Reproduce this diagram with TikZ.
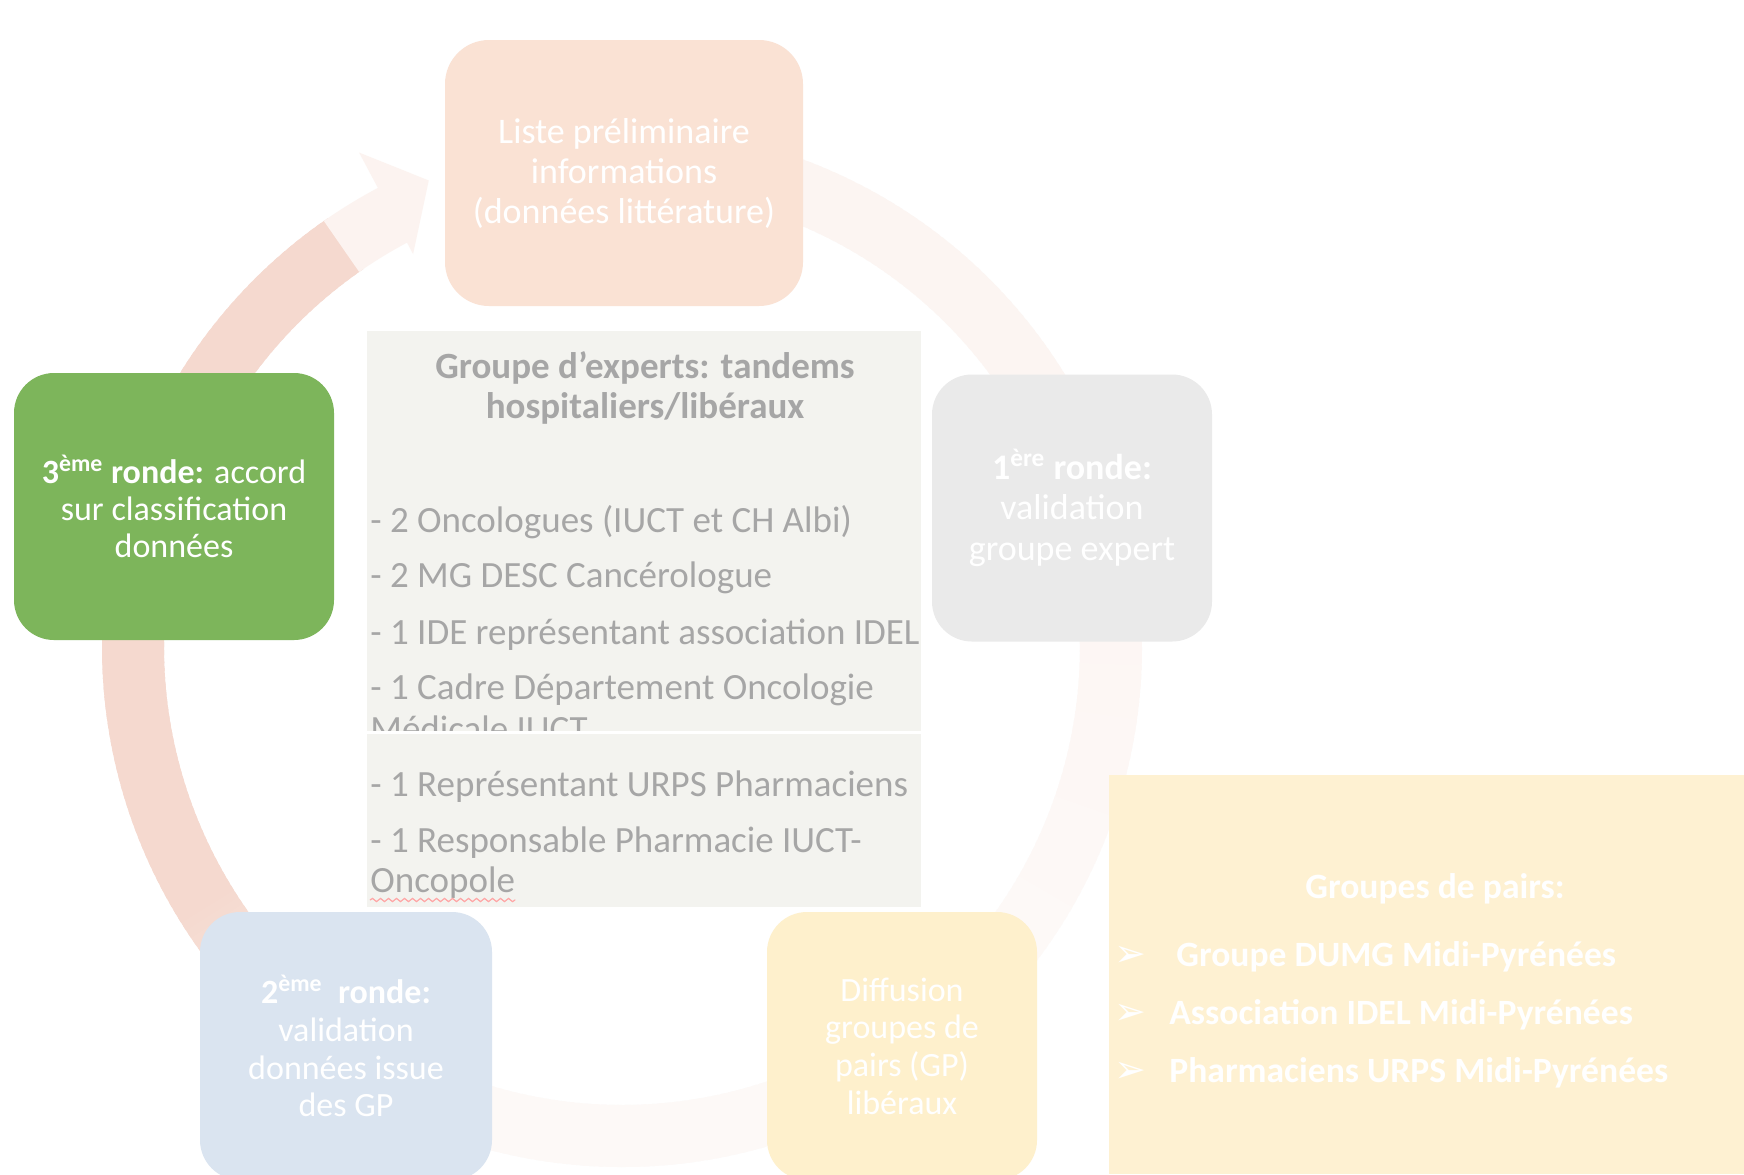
\documentclass[tikz,border=0pt]{standalone}
\usepackage{fontspec}
\setmainfont{Carlito}
\newfontfamily\djv{DejaVu Sans}
\usetikzlibrary{decorations.pathmorphing}
\definecolor{peachfill}{HTML}{FAE2D4}
\definecolor{greenfill}{HTML}{7DB55B}
\definecolor{grayfill}{HTML}{EAEAEA}
\definecolor{bluefill}{HTML}{DAE4F0}
\definecolor{yellowfill}{HTML}{FEF0CC}
\definecolor{expfill}{HTML}{F3F3EF}
\definecolor{expgray}{HTML}{A6A6A6}
\definecolor{pairfill}{HTML}{FEF1D2}
\definecolor{ringpink}{HTML}{F5D9CF}
\begin{document}
\begin{tikzpicture}[x=0.5pt,y=0.5pt,
  roundbox/.style={rounded corners=20pt, inner sep=0pt, align=center, text=white},
  expbox/.style={fill=expfill, inner sep=0pt, minimum width=277pt},
  listitem/.style={anchor=base west, inner sep=0pt, text=expgray, font=\fontsize{18.5}{20}\selectfont},
  pairitem/.style={anchor=base west, inner sep=0pt, text=white, font=\bfseries\fontsize{17.8}{20}\selectfont},
  pairbullet/.style={anchor=base west, inner sep=0pt, text=white, font=\djv\fontsize{19}{20}\selectfont},
  squiggle/.style={decorate, decoration={snake, segment length=4pt, amplitude=0.8pt}, draw=red!35!white, line width=0.6pt}
]
\path[use as bounding box] (0,0) rectangle (1744,-1174);
\clip (0,0) rectangle (1744,-1174);
\fill[white] (0,0) rectangle (1744,-1174);

% circular arrow
\begin{scope}[shift={(622,-647)}]
  \foreach \s in {0,...,334}{
    \pgfmathtruncatemacro\pp{\s<80 ? 27 : (\s<140 ? 27-(\s-80)/60*11 : (\s<208 ? 16 : (\s<248 ? 16+(\s-208)/40*84 : 100)))}
    \pgfmathsetmacro\th{100-\s}
    \pgfmathsetmacro\te{\th-1.6}
    \draw[line width=31pt, color=ringpink!\pp!white] (\th:489) arc[start angle=\th, end angle=\te, radius=489];
  }
  \draw[line width=31pt, color=ringpink!32!white] (-235:489) arc[start angle=-235, end angle=-242.5, radius=489];
  \fill[ringpink!32!white] (118:560) -- (112.5:505) -- (118:445) -- cycle;
\end{scope}

% cycle boxes
\node[roundbox, rounded corners=22pt, fill=peachfill, minimum width=179pt, minimum height=133pt,
      font=\fontsize{18}{20}\selectfont] (liste) at (624,-173)
      {Liste préliminaire\\informations\\(données littérature)};
\node[roundbox, fill=greenfill, minimum width=160pt, minimum height=133.5pt,
      font=\fontsize{17}{18.5}\selectfont] (ronde3) at (174,-506.5)
      {\textbf{3\textsuperscript{ème} ronde:} accord\\sur classification\\données};
\node[roundbox, fill=grayfill, minimum width=140pt, minimum height=133.5pt,
      font=\fontsize{18}{20.3}\selectfont] (ronde1) at (1072,-508)
      {\textbf{1\textsuperscript{ère} ronde:}\\validation\\groupe expert};
\node[roundbox, fill=bluefill, minimum width=146pt, minimum height=134pt,
      font=\fontsize{17}{18.8}\selectfont] (ronde2) at (346,-1046)
      {\textbf{2\textsuperscript{ème}\ \ ronde:}\\validation\\données issue\\des GP};
\node[roundbox, fill=yellowfill, minimum width=135pt, minimum height=134pt,
      font=\fontsize{17}{18.8}\selectfont] (diffusion) at (902,-1046)
      {Diffusion\\groupes de\\pairs (GP)\\libéraux};

% expert group box
\node[expbox, minimum height=200pt] (experts) at (644,-531) {};
\node[inner sep=0pt, align=center, text=expgray, font=\bfseries\fontsize{18.5}{20}\selectfont] (titre) at (645,-388)
      {Groupe d’experts: tandems\\hospitaliers/libéraux};
\node[listitem] (l1) at (370,-532) {- 2 Oncologues (IUCT et CH Albi)};
\node[listitem] (l2) at (370,-587) {- 2 MG DESC Cancérologue};
\node[listitem] (l3) at (370,-644) {- 1 IDE représentant association IDEL};
\node[listitem] (l4) at (370,-699) {- 1 Cadre Département Oncologie};
\node[listitem] (l4b) at (370,-741) {Médicale IUCT};
\node[fill=white, inner sep=0pt, minimum width=277pt, minimum height=1.5pt] (sep) at (644,-732.5) {};
\node[expbox, minimum height=86.5pt] (experts2) at (644,-820.5) {};
\node[listitem] (l5) at (370,-796) {- 1 Représentant URPS Pharmaciens};
\node[listitem] (l6) at (370,-852) {- 1 Responsable Pharmacie IUCT-};
\node[listitem] (l6b) at (370,-892) {Oncopole};
\draw[squiggle] ([yshift=-4pt]l6b.base west) -- ([yshift=-4pt]l6b.base east);

% peer groups box
\node[fill=pairfill, inner sep=0pt, minimum width=317.5pt, minimum height=199.5pt] (pairs) at (1426.5,-974.5) {};
\node[anchor=base, inner sep=0pt, text=white, font=\bfseries\fontsize{17.8}{20}\selectfont] (ptitre) at (1435,-898) {Groupes de pairs:};
\node[pairbullet] (b1) at (1114,-966) {➢};
\node[pairbullet] (b2) at (1114,-1024) {➢};
\node[pairbullet] (b3) at (1114,-1082) {➢};
\node[pairitem] (p1) at (1176,-966) {Groupe DUMG Midi-Pyrénées};
\node[pairitem] (p2) at (1169,-1024) {Association IDEL Midi-Pyrénées};
\node[pairitem] (p3) at (1169,-1082) {Pharmaciens URPS Midi-Pyrénées};
\end{tikzpicture}
\end{document}
